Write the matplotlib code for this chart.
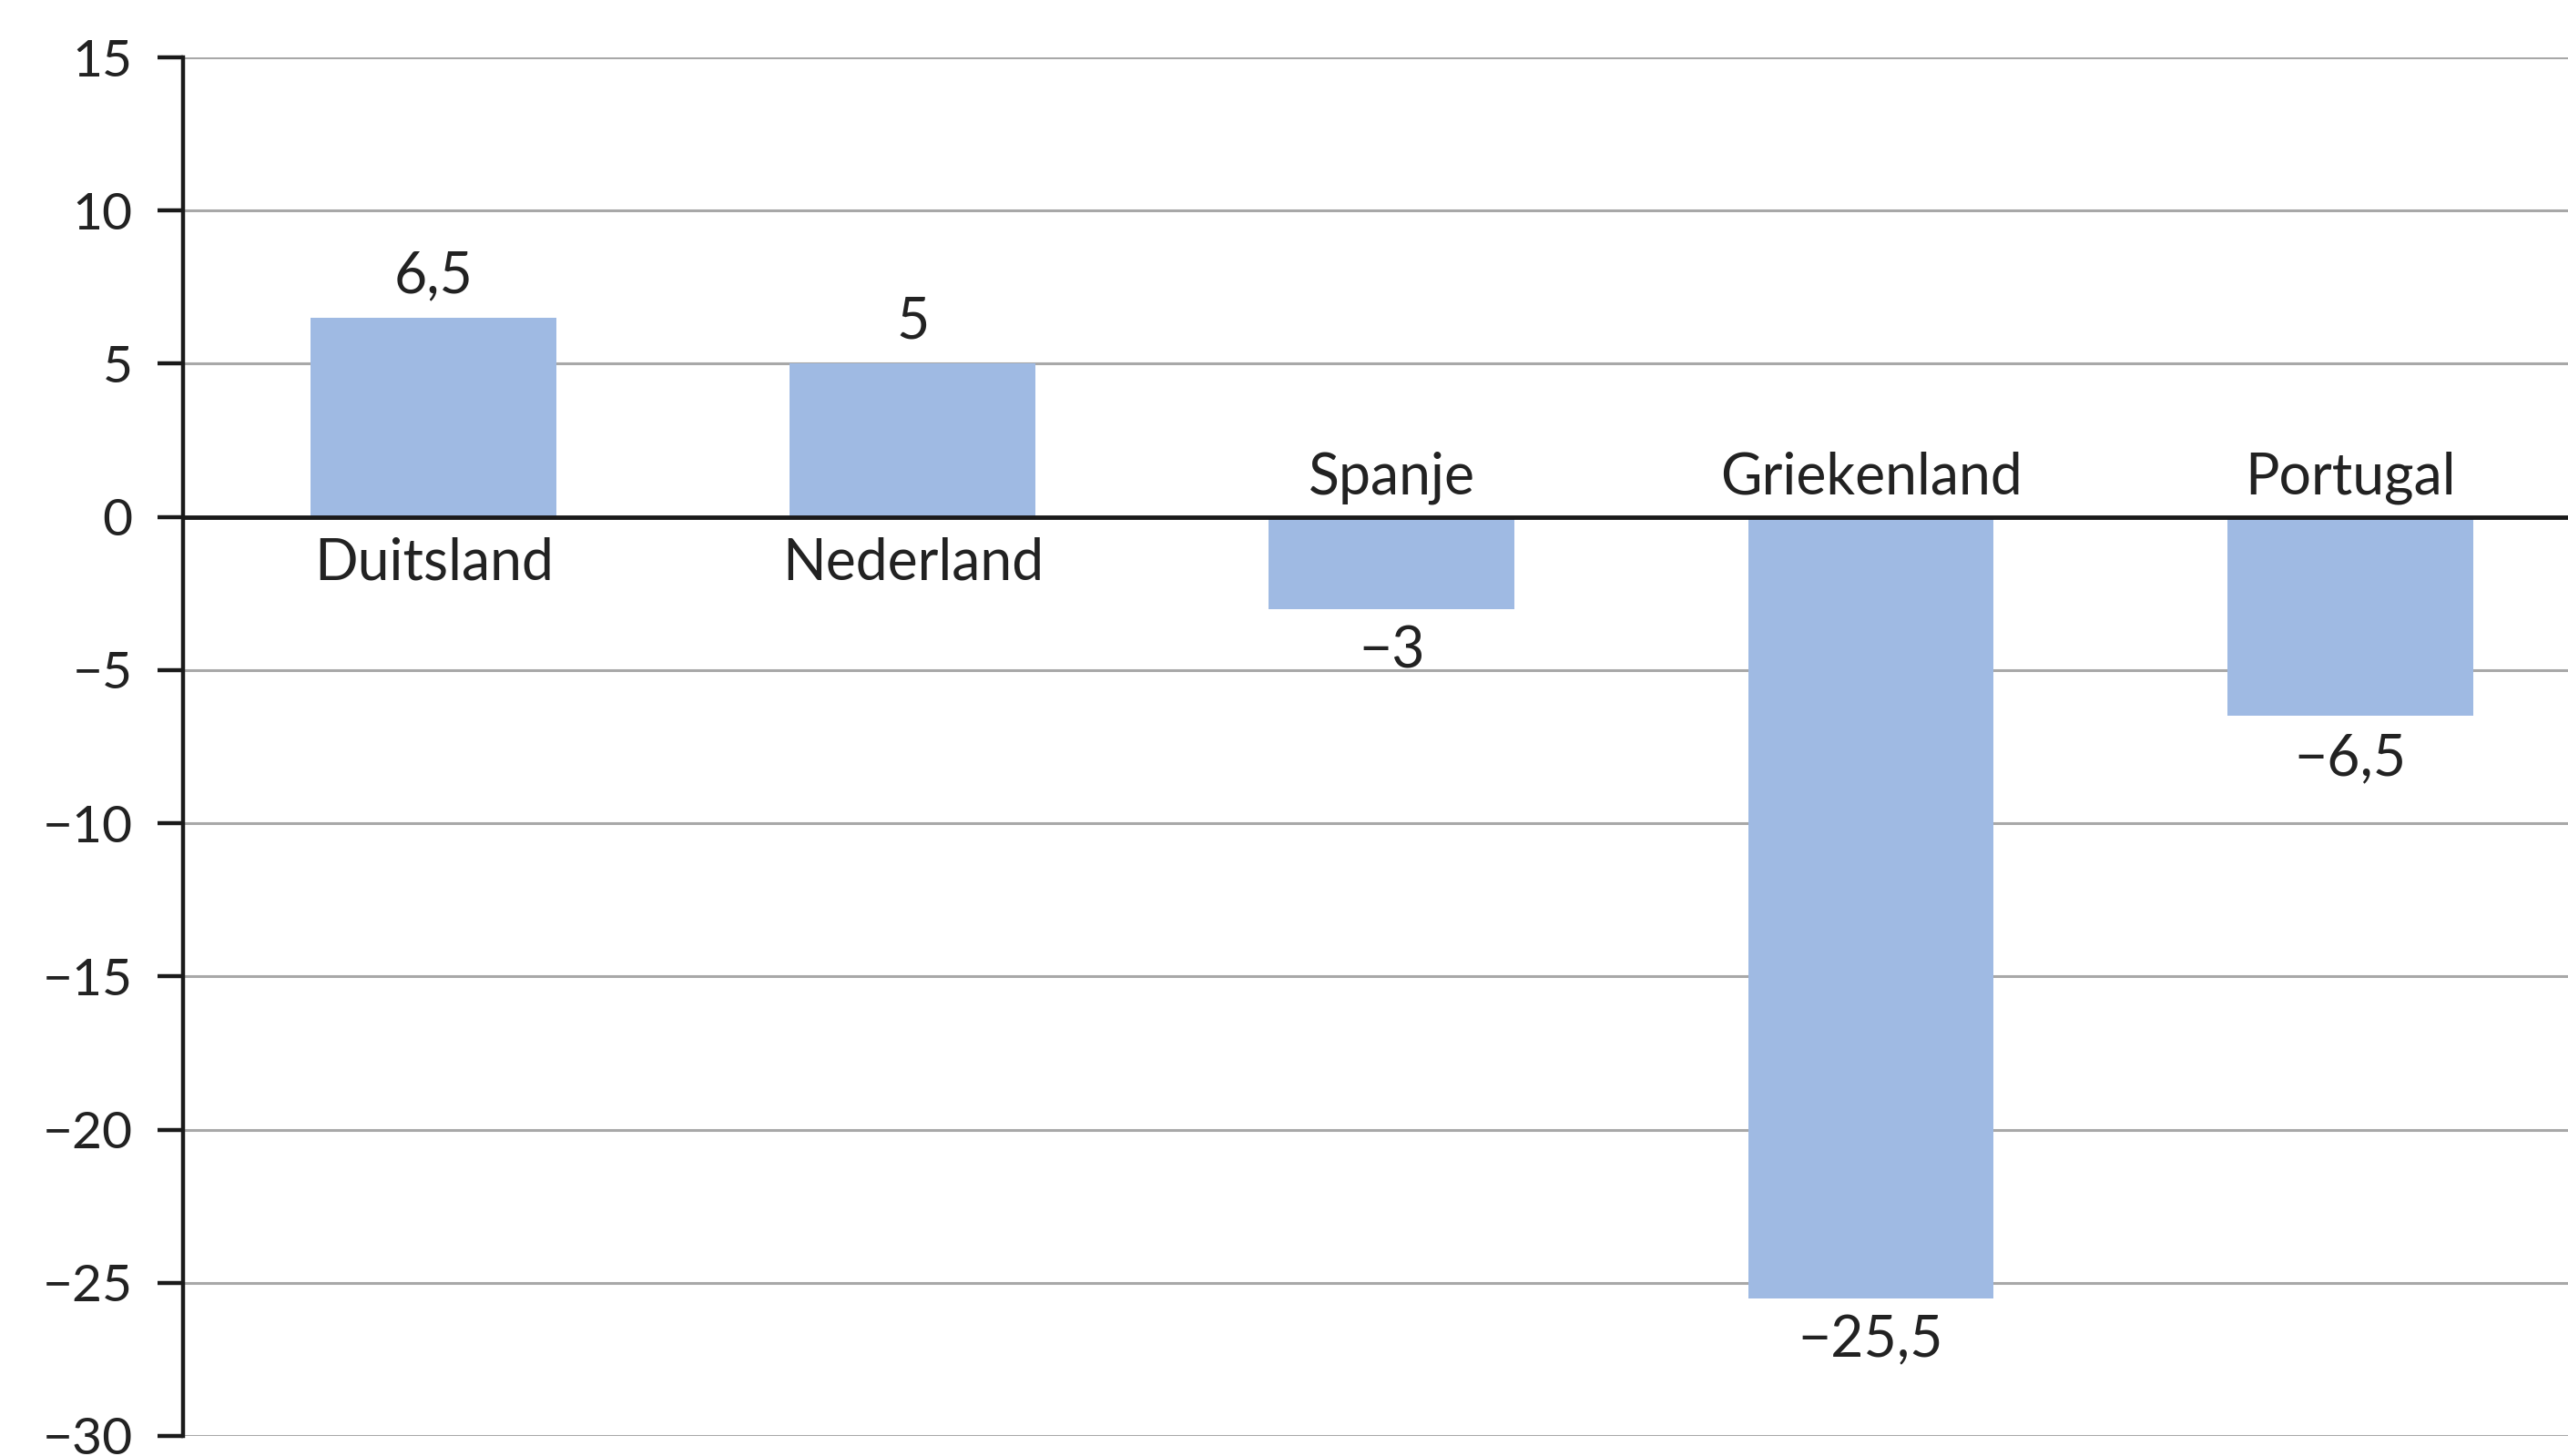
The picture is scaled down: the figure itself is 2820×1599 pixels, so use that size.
import matplotlib
matplotlib.use("Agg")
import matplotlib.pyplot as plt

categories = ["Duitsland", "Nederland", "Spanje", "Griekenland", "Portugal"]
values = [6.5, 5, -3, -25.5, -6.5]
value_labels = ["6,5", "5", "−3", "−25,5", "−6,5"]
yticks = [15, 10, 5, 0, -5, -10, -15, -20, -25, -30]
ytick_labels = ["15", "10", "5", "0", "−5", "−10", "−15", "−20", "−25", "−30"]

plt.rcParams['font.family'] = ['Lato', 'DejaVu Sans']

fig = plt.figure(figsize=(28.2, 15.99), dpi=100)
ax = fig.add_axes([0.0713, 0.0138, 1 - 0.0713, 0.9606 - 0.0138])

x = list(range(len(categories)))
ax.bar(x, values, width=0.513, color='#9fbae3', zorder=3)

ax.set_ylim(-30, 15)
ax.set_xlim(-0.523, 4.455)
ax.set_yticks(yticks)
ax.set_yticklabels(ytick_labels, fontsize=41, color='#222222')
ax.set_xticks([])

for y in yticks:
    if y != 0:
        ax.axhline(y, color='#a8a8a8', lw=2.2, zorder=1)
ax.axhline(0, color='#1a1a1a', lw=3.5, zorder=4)

for s in ['top', 'right', 'bottom']:
    ax.spines[s].set_visible(False)
ax.spines['left'].set_linewidth(3.2)
ax.spines['left'].set_color('#1a1a1a')
ax.tick_params(axis='y', length=20, width=3.2, color='#1a1a1a', pad=20)

fs = 45
for xi, v, vl, cat in zip(x, values, value_labels, categories):
    if v >= 0:
        ax.annotate(vl, (xi, v), xytext=(0, 12), textcoords='offset points',
                    ha='center', va='bottom', fontsize=fs, color='#222222')
        ax.annotate(cat, (xi, 0), xytext=(0, -16), textcoords='offset points',
                    ha='center', va='top', fontsize=fs, color='#222222')
    else:
        ax.annotate(cat, (xi, 0), xytext=(0, 10), textcoords='offset points',
                    ha='center', va='bottom', fontsize=fs, color='#222222')
        ax.annotate(vl, (xi, v), xytext=(0, -13), textcoords='offset points',
                    ha='center', va='top', fontsize=fs, color='#222222')

fig.savefig("out.png", dpi=100, facecolor='white')
